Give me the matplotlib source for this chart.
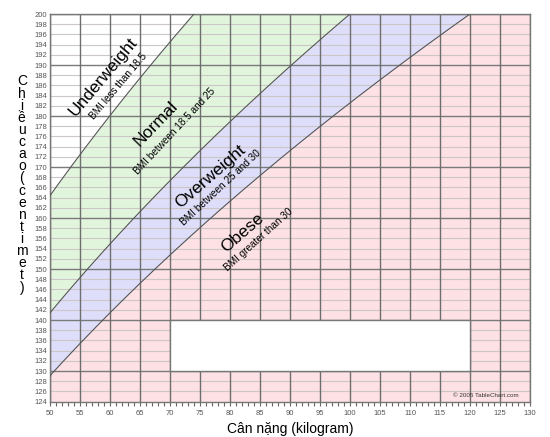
import numpy as np
import matplotlib
matplotlib.use("Agg")
import matplotlib.pyplot as plt
from matplotlib.patches import Rectangle

plt.rcParams['font.family'] = ['Liberation Sans', 'DejaVu Sans']

# ---- data ----
bmi_thresholds = [18.5, 25, 30]          # BMI boundaries between categories
categories = ["Underweight", "Normal", "Overweight", "Obese"]
subtitles = ["BMI less than 18.5", "BMI between 18.5 and 25",
             "BMI between 25 and 30", "BMI greater than 30"]
fill_colors = ["#ffffff", "#e1f5dd", "#dedefa", "#fde1e4"]
x_ticks = list(range(50, 131, 5))
y_ticks = list(range(124, 201, 2))
x_label = "Cân nặng (kilogram)"
y_label = "Chiều cao (centimet)"
credit = "© 2005 TableChart.com"

# ---- figure ----
fig = plt.figure(figsize=(5.5, 4.37), dpi=100)
ax = fig.add_axes([50/550, 1-401.7/437, 480/550, (401.7-14)/437])
xmin, xmax, ymin, ymax = 50, 130, 124, 200
ax.set_xlim(xmin, xmax)
ax.set_ylim(ymin, ymax)

h = np.linspace(ymin, ymax, 400)
w = [b * (h/100.0)**2 for b in bmi_thresholds]

# fills
ax.fill_betweenx(h, xmin, np.clip(w[0], xmin, xmax), color=fill_colors[0], lw=0, zorder=0)
ax.fill_betweenx(h, np.clip(w[0], xmin, xmax), np.clip(w[1], xmin, xmax), color=fill_colors[1], lw=0, zorder=0)
ax.fill_betweenx(h, np.clip(w[1], xmin, xmax), np.clip(w[2], xmin, xmax), color=fill_colors[2], lw=0, zorder=0)
ax.fill_betweenx(h, np.clip(w[2], xmin, xmax), xmax, color=fill_colors[3], lw=0, zorder=0)

# grid
for y in y_ticks:
    if y % 10 == 0:
        ax.axhline(y, color="#7a7a7a", lw=1.0, zorder=2)
    else:
        ax.axhline(y, color="#cdc6c6", lw=0.8, zorder=1)
for x in x_ticks:
    ax.axvline(x, color="#6e6e6e", lw=1.0, zorder=2)

# boundary curves
for wi in w:
    ax.plot(wi, h, color="#555555", lw=0.8, zorder=3)

# white box
ax.add_patch(Rectangle((70, 130), 50, 10, facecolor="white",
                       edgecolor="#777777", lw=1.0, zorder=4))

# labels on regions
big = dict(fontsize=12.5, color="black", ha="center", va="center",
           rotation_mode="anchor", zorder=5)
small = dict(fontsize=7.2, color="black", ha="center", va="center",
             rotation_mode="anchor", zorder=5)
ax.text(58.8, 187.7, categories[0], rotation=50, **big)
ax.text(61.4, 185.9, subtitles[0], rotation=50, **small)
ax.text(67.7, 178.5, categories[1], rotation=46, **big)
ax.text(70.8, 177.1, subtitles[1], rotation=47, **small)
ax.text(76.8, 168.1, categories[2], rotation=41, **big)
ax.text(78.5, 165.9, subtitles[2], rotation=43, **small)
ax.text(82.0, 157.1, categories[3], rotation=41, **big)
ax.text(84.7, 155.7, subtitles[3], rotation=42, **small)

ax.text(122.7, 125.2, credit, fontsize=4.5, color="#333333",
        ha="center", va="center", zorder=5)

# axes styling
for s in ["top", "right", "left", "bottom"]:
    ax.spines[s].set_color("#777777")
    ax.spines[s].set_linewidth(1.0)
ax.set_xticks(x_ticks)
ax.set_xticks(range(50, 131, 1), minor=True)
ax.set_yticks(y_ticks)
ax.tick_params(axis="x", which="both", length=3, width=0.8, color="#666666",
               labelsize=5.5, labelcolor="#555555", pad=3)
ax.tick_params(axis="y", length=0, labelsize=5.5, labelcolor="#555555", pad=2)

fig.text(290/550, 1-429/437, x_label, fontsize=10, ha="center", va="center")

# vertical stacked y label (one text object)
stacked = "\n".join(c for c in y_label if c != " ")
fig.text(22/550, 1-((86+283)/2)/437, stacked, fontsize=10, ha="center",
         va="center", multialignment="center", linespacing=0.83)

fig.savefig("out.png", dpi=100)
